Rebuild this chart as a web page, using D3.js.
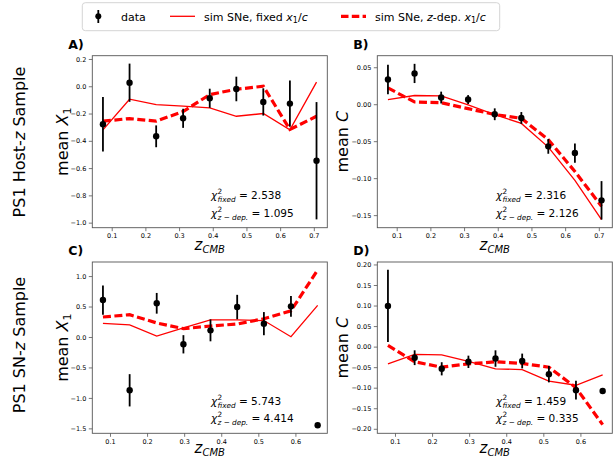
<!DOCTYPE html>
<html><head><meta charset="utf-8">
<script src="https://cdn.jsdelivr.net/npm/d3@7"></script>
<style>body{margin:0;background:#fff;} text{font-family:"DejaVu Sans",sans-serif;fill:#000;white-space:pre;}</style>
</head><body><svg id="c" width="613" height="459"></svg>
<script>
// ---------- data ----------
const zRow1 = [0.074, 0.153, 0.232, 0.312, 0.391, 0.470, 0.550, 0.629, 0.708];
const zRow2 = [0.081, 0.153, 0.226, 0.298, 0.371, 0.443, 0.515, 0.588, 0.660];

const aMean  = [-0.278, 0.026, -0.367, -0.235, -0.088, -0.020, -0.115, -0.127, -0.546];
const aErr   = [0.20, 0.14, 0.08, 0.07, 0.07, 0.09, 0.10, 0.17, 0.43];
const aFixed = [-0.32, -0.095, -0.135, -0.145, -0.158, -0.22, -0.20, -0.32, 0.03];
const aZdep  = [-0.256, -0.237, -0.256, -0.185, -0.061, -0.022, 0.0, -0.317, -0.22];

const bMean  = [0.0335, 0.0416, 0.009, 0.0063, -0.0136, -0.0186, -0.057, -0.066, -0.130];
const bErr   = [0.020, 0.013, 0.008, 0.006, 0.008, 0.008, 0.010, 0.013, 0.026];
const bFixed = [0.0063, 0.0118, 0.0113, -0.001, -0.014, -0.026, -0.058, -0.103, -0.156];
const bZdep  = [0.022, 0.003, 0.002, -0.006, -0.014, -0.019, -0.048, -0.091, -0.138];

const cMean  = [0.607, -0.875, 0.553, -0.12, 0.109, 0.492, 0.219, 0.503, -1.45];
const cErr   = [0.24, 0.265, 0.17, 0.15, 0.18, 0.20, 0.19, 0.17, 0];
const cFixed = [0.224, 0.20, 0.016, 0.15, 0.28, 0.28, 0.27, 0.005, 0.52];
const cZdep  = [0.328, 0.366, 0.23, 0.137, 0.18, 0.213, 0.30, 0.43, 1.10];

const dMean  = [0.099, -0.027, -0.054, -0.037, -0.029, -0.035, -0.067, -0.106, -0.108];
const dErr   = [0.088, 0.018, 0.016, 0.015, 0.020, 0.018, 0.020, 0.023, 0];
const dFixed = [-0.042, -0.019, -0.020, -0.036, -0.054, -0.056, -0.084, -0.094, -0.069];
const dZdep  = [0.003, -0.037, -0.050, -0.042, -0.037, -0.041, -0.050, -0.10, -0.19];

const xTicksRow1 = [0.1, 0.2, 0.3, 0.4, 0.5, 0.6, 0.7];
const xTicksRow2 = [0.1, 0.2, 0.3, 0.4, 0.5, 0.6];
const yTicksA = [0.2, 0.0, -0.2, -0.4, -0.6, -0.8, -1.0];
const yTicksB = [0.05, 0.00, -0.05, -0.10, -0.15];
const yTicksC = [1.0, 0.5, 0.0, -0.5, -1.0, -1.5];
const yTicksD = [0.20, 0.15, 0.10, 0.05, 0.00, -0.05, -0.10, -0.15, -0.20];

const panelLetters = ["A)", "B)", "C)", "D)"];
const chiFixed = ["2.538", "2.316", "5.743", "1.459"];
const chiZdep  = ["1.095", "2.126", "4.414", "0.335"];
const rowLabels = [["PS1 Host-", "z", " Sample"], ["PS1 SN-", "z", " Sample"]];
const legendLabels = ["data", "sim SNe, fixed ", "sim SNe, "];

// ---------- drawing ----------
const svg = d3.select("#c");
const RED = "#ff0000";
const SPINE = "#555";

function rich(parent, parts, base) {
  const t = parent.append("text").style("font-size", base + "px");
  let cur = 0;
  parts.forEach(p => {
    const sh = p.sh || 0;
    t.append("tspan").text(p.t)
      .style("font-style", p.i ? "italic" : "normal")
      .style("font-size", (p.s || base) + "px")
      .attr("dy", sh - cur);
    cur = sh;
  });
  return t;
}

const W = 235, H1 = 172, H2 = 171.3;
const panels = [
  {x: 92.3, y: 55.7, h: H1, xd: [0.0424, 0.740], yd: [-1.037, 0.224], xt: xTicksRow1, yt: yTicksA, fmt: ".1f",
   z: zRow1, mean: aMean, err: aErr, fixed: aFixed, zdep: aZdep, yl: "X", ylOff: 24.8, xlOff: 22.5},
  {x: 377.3, y: 55.7, h: H1, xd: [0.0424, 0.740], yd: [-0.167, 0.0656], xt: xTicksRow1, yt: yTicksB, fmt: ".2f",
   z: zRow1, mean: bMean, err: bErr, fixed: bFixed, zdep: bZdep, yl: "C", ylOff: 29, xlOff: 22.5},
  {x: 92.3, y: 262, h: H2, xd: [0.0523, 0.686], yd: [-1.581, 1.231], xt: xTicksRow2, yt: yTicksC, fmt: ".1f",
   z: zRow2, mean: cMean, err: cErr, fixed: cFixed, zdep: cZdep, yl: "X", ylOff: 24.8, xlOff: 19.8},
  {x: 377.3, y: 262, h: H2, xd: [0.0523, 0.686], yd: [-0.211, 0.206], xt: xTicksRow2, yt: yTicksD, fmt: ".2f",
   z: zRow2, mean: dMean, err: dErr, fixed: dFixed, zdep: dZdep, yl: "C", ylOff: 29, xlOff: 19.8}
];

panels.forEach((p, i) => {
  const g = svg.append("g").attr("transform", `translate(${p.x},${p.y})`);
  const xs = d3.scaleLinear().domain(p.xd).range([0, W]);
  const ys = d3.scaleLinear().domain(p.yd).range([p.h, 0]);

  const xa = g.append("g").attr("transform", `translate(0,${p.h})`)
    .call(d3.axisBottom(xs).tickValues(p.xt).tickSize(3.5).tickPadding(2.5).tickFormat(d3.format(".1f")));
  const ya = g.append("g")
    .call(d3.axisLeft(ys).tickValues(p.yt).tickSize(3.5).tickPadding(2.5).tickFormat(d3.format(p.fmt)));
  [xa, ya].forEach(a => {
    a.select(".domain").remove();
    a.selectAll("line").attr("stroke", SPINE).attr("stroke-width", 0.8);
    a.selectAll("text").style("font-size", "6.5px").style("font-family", "DejaVu Sans").attr("fill", "#111");
  });

  const line = d3.line().x((d, k) => xs(p.z[k])).y(d => ys(d));
  g.append("path").datum(p.fixed).attr("d", line).attr("fill", "none")
    .attr("stroke", RED).attr("stroke-width", 1.3);
  g.append("path").datum(p.zdep).attr("d", line).attr("fill", "none")
    .attr("stroke", RED).attr("stroke-width", 3.2).attr("stroke-dasharray", "8,3.5");

  const pts = g.append("g");
  p.mean.forEach((m, k) => {
    if (p.err[k] > 0) {
      pts.append("line").attr("x1", xs(p.z[k])).attr("x2", xs(p.z[k]))
        .attr("y1", ys(m - p.err[k])).attr("y2", ys(m + p.err[k]))
        .attr("stroke", "#000").attr("stroke-width", 1.8);
    }
    pts.append("circle").attr("cx", xs(p.z[k])).attr("cy", ys(m)).attr("r", 3.2).attr("fill", "#000");
  });

  g.append("rect").attr("x", 0).attr("y", 0).attr("width", W).attr("height", p.h)
    .attr("fill", "none").attr("stroke", SPINE).attr("stroke-width", 0.9);

  // panel letter
  g.append("text").attr("x", -24).attr("y", -7.2).style("font-size", "12.5px").style("font-weight", "bold")
    .text(panelLetters[i]);

  // x label
  rich(g, [{t: "z", i: true, s: 15}, {t: "CMB", i: true, s: 10, sh: 2.6}], 15)
    .attr("x", W / 2).attr("y", p.h + p.xlOff).attr("text-anchor", "middle");

  // y label
  const yl = p.yl === "X"
    ? rich(g, [{t: "mean "}, {t: "X", i: true}, {t: "1", s: 11, sh: 3.5}], 16)
    : rich(g, [{t: "mean "}, {t: "C", i: true}], 16);
  yl.attr("text-anchor", "middle").attr("transform", `translate(${-p.ylOff},${p.h / 2}) rotate(-90)`);

  // chi^2 annotations
  const cx = W * 0.505;
  [[chiFixed[i], "fixed", 28.4], [chiZdep[i], "z − dep.", 11]].forEach(([val, sub, off]) => {
    const y = p.h - off;
    const t1 = g.append("text").attr("x", cx).attr("y", y).style("font-size", "10.5px").style("font-style", "italic").text("χ");
    const w = t1.node().getComputedTextLength();
    g.append("text").attr("x", cx + w + 0.3).attr("y", y - 5).style("font-size", "7.3px").text("2");
    const s = g.append("text").attr("x", cx + w + 0.3).attr("y", y + 3).style("font-size", "7.3px")
      .style("font-style", "italic").text(sub);
    const sw = s.node().getComputedTextLength();
    g.append("text").attr("x", cx + w + 0.3 + sw).attr("y", y).style("font-size", "10.5px").text(" = " + val);
  });
});

// row labels
[[25, 142], [25, 345]].forEach(([x, y], r) => {
  const L = rowLabels[r];
  rich(svg, [{t: L[0]}, {t: L[1], i: true}, {t: L[2]}], 16)
    .attr("text-anchor", "middle").attr("transform", `translate(${x},${y}) rotate(-90)`);
});

// legend
const lg = svg.append("g");
lg.append("rect").attr("x", 82.3).attr("y", 2.7).attr("width", 417.4).attr("height", 28)
  .attr("rx", 3).attr("fill", "#fff").attr("stroke", "#d0d0d0").attr("stroke-width", 0.9);
lg.append("line").attr("x1", 98.3).attr("x2", 98.3).attr("y1", 10).attr("y2", 23).attr("stroke", "#000").attr("stroke-width", 1.8);
lg.append("circle").attr("cx", 98.3).attr("cy", 16.3).attr("r", 3).attr("fill", "#000");
lg.append("text").attr("x", 121).attr("y", 20.5).style("font-size", "11px").text(legendLabels[0]);
lg.append("line").attr("x1", 170).attr("x2", 195).attr("y1", 16.3).attr("y2", 16.3).attr("stroke", RED).attr("stroke-width", 1.3);
rich(lg, [{t: legendLabels[1]}, {t: "x", i: true}, {t: "1", s: 8, sh: 2.5}, {t: "/"}, {t: "c", i: true}], 11)
  .attr("x", 204).attr("y", 20.5);
lg.append("line").attr("x1", 341).attr("x2", 366).attr("y1", 16.3).attr("y2", 16.3).attr("stroke", RED)
  .attr("stroke-width", 3.2).attr("stroke-dasharray", "7.5,3.3");
rich(lg, [{t: legendLabels[2]}, {t: "z", i: true}, {t: "-dep. "}, {t: "x", i: true}, {t: "1", s: 8, sh: 2.5}, {t: "/"}, {t: "c", i: true}], 11)
  .attr("x", 375).attr("y", 20.5);
</script></body></html>
